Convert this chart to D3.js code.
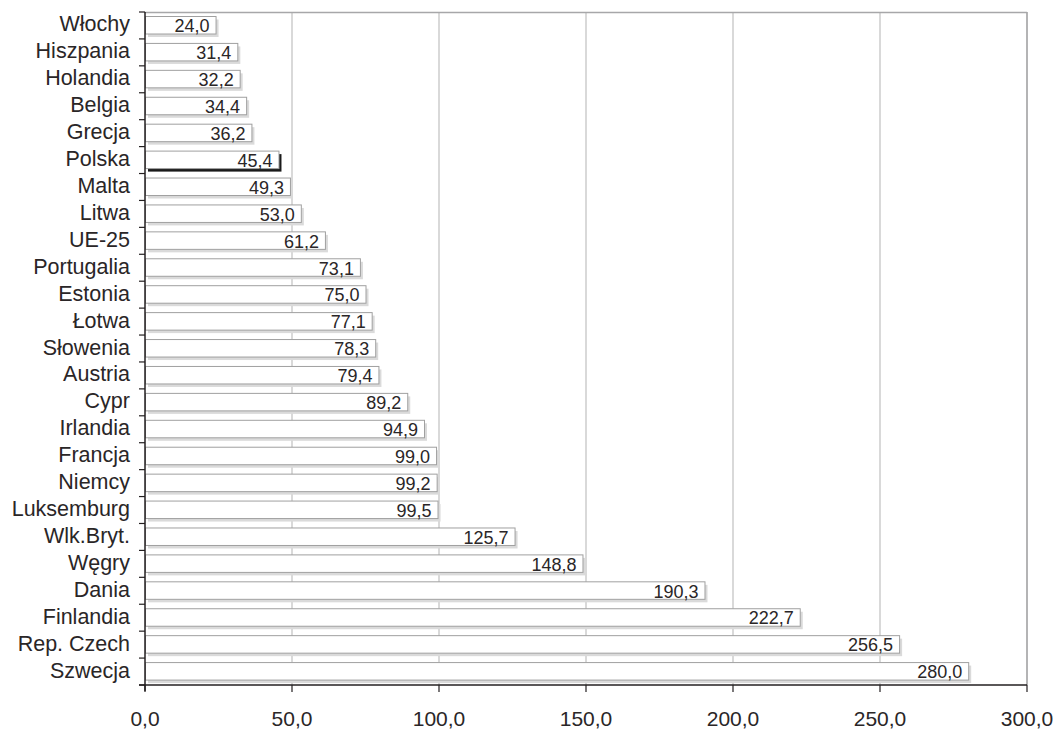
<!DOCTYPE html>
<html>
<head>
<meta charset="utf-8">
<script src="https://cdn.jsdelivr.net/npm/d3@7"></script>
<style>
  body { margin: 0; background: #fff; }
  svg text { font-family: "Liberation Sans", Arial, sans-serif; fill: #2a2627; }
</style>
</head>
<body>
<svg id="chart" width="1054" height="729"></svg>
<script>
// Countries, top to bottom, and their values
const countries = ["Włochy","Hiszpania","Holandia","Belgia","Grecja","Polska","Malta","Litwa","UE-25",
  "Portugalia","Estonia","Łotwa","Słowenia","Austria","Cypr","Irlandia","Francja","Niemcy","Luksemburg",
  "Wlk.Bryt.","Węgry","Dania","Finlandia","Rep. Czech","Szwecja"];
const values = [24.0,31.4,32.2,34.4,36.2,45.4,49.3,53.0,61.2,73.1,75.0,77.1,78.3,79.4,89.2,94.9,99.0,99.2,99.5,
  125.7,148.8,190.3,222.7,256.5,280.0];
const xTicks = [0,50,100,150,200,250,300];
const highlighted = "Polska";

const svg = d3.select("#chart");
const plotLeft = 145, plotRight = 1027, plotTop = 12, plotBottom = 685;
const fmt = v => v.toFixed(1).replace(".", ",");

const x = d3.scaleLinear().domain([0, 300]).range([plotLeft, plotRight]);
const y = d3.scaleBand().domain(countries).range([plotTop, plotBottom]);

// Grid lines
svg.append("g").selectAll("line").data(xTicks.slice(1)).join("line")
  .attr("x1", d => x(d)).attr("x2", d => x(d))
  .attr("y1", plotTop).attr("y2", plotBottom)
  .attr("stroke", "#b3b3b3").attr("stroke-width", 1);

// Top frame line
svg.append("line").attr("x1", plotLeft).attr("x2", plotRight).attr("y1", plotTop + 0.5).attr("y2", plotTop + 0.5)
  .attr("stroke", "#a7a7a9").attr("stroke-width", 1.5);

const bw = y.bandwidth();
const bh = 17.5, bOff = 4.5, sh = 3;

const bars = svg.append("g").selectAll("g").data(countries).join("g");

// Drop shadows
bars.append("rect")
  .attr("x", x(0) + sh)
  .attr("y", d => y(d) + bOff + sh)
  .attr("width", (d, i) => x(values[i]) - x(0))
  .attr("height", bh)
  .attr("fill", d => d === highlighted ? "#1a1a1a" : "#dadada");

// Bars
bars.append("rect")
  .attr("x", x(0) + 0.5)
  .attr("y", d => y(d) + bOff)
  .attr("width", (d, i) => x(values[i]) - x(0))
  .attr("height", bh)
  .attr("fill", "#fff")
  .attr("stroke", "#a0a0a0").attr("stroke-width", 1);

// Value labels
bars.append("text")
  .attr("x", (d, i) => x(values[i]) - 6)
  .attr("y", d => y(d) + bOff + bh / 2 + 0.5)
  .attr("dy", "0.36em")
  .attr("text-anchor", "end")
  .attr("font-size", 18)
  .text((d, i) => fmt(values[i]));

// Right frame line
svg.append("line").attr("x1", plotRight).attr("x2", plotRight).attr("y1", plotTop).attr("y2", plotBottom)
  .attr("stroke", "#a7a7a9").attr("stroke-width", 1.5);

// Y axis with boundary ticks
const yAxis = svg.append("g");
yAxis.append("line").attr("x1", plotLeft).attr("x2", plotLeft).attr("y1", plotTop).attr("y2", plotBottom + 6)
  .attr("stroke", "#231f20").attr("stroke-width", 1.5);
const bounds = countries.map(c => y(c)).concat([plotBottom]);
yAxis.selectAll("line.tick").data(bounds).join("line").attr("class", "tick")
  .attr("x1", plotLeft - 6).attr("x2", plotLeft).attr("y1", d => d).attr("y2", d => d)
  .attr("stroke", "#231f20").attr("stroke-width", 1.2);
yAxis.selectAll("text").data(countries).join("text")
  .attr("x", 130).attr("y", d => y(d) + bw / 2 - 1.5)
  .attr("dy", "0.35em").attr("text-anchor", "end")
  .attr("font-size", 21.5)
  .text(d => d);

// X axis
const xAxis = svg.append("g");
xAxis.append("line").attr("x1", plotLeft - 6).attr("x2", plotRight).attr("y1", plotBottom).attr("y2", plotBottom)
  .attr("stroke", "#231f20").attr("stroke-width", 1.5);
xAxis.selectAll("line.tick").data(xTicks).join("line").attr("class", "tick")
  .attr("x1", d => x(d)).attr("x2", d => x(d)).attr("y1", plotBottom).attr("y2", plotBottom + 7)
  .attr("stroke", "#231f20").attr("stroke-width", 1.2);
xAxis.selectAll("text").data(xTicks).join("text")
  .attr("x", d => x(d)).attr("y", 726)
  .attr("text-anchor", "middle").attr("font-size", 21)
  .text(d => fmt(d));
</script>
</body>
</html>
